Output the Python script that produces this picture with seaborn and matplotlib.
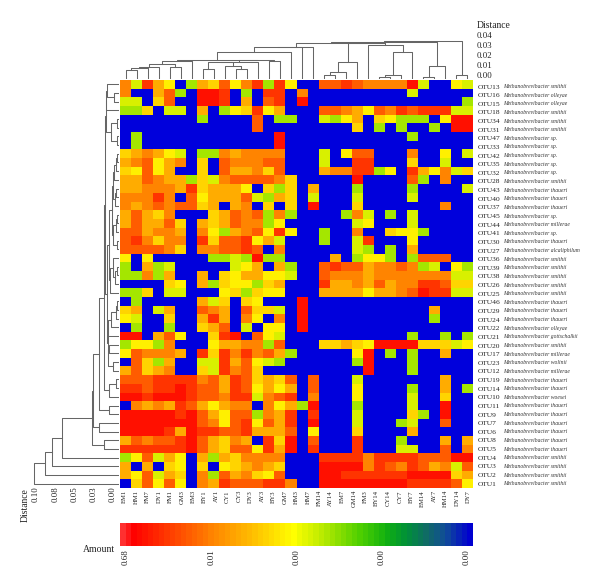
import numpy as np
import pandas as pd
import matplotlib
matplotlib.use("Agg")
import matplotlib.pyplot as plt
from matplotlib.colors import ListedColormap, LinearSegmentedColormap
import seaborn as sns

samples = ["EM1","HM1","FM7","DY1","FM1","GM3","EM3","BY1","AY1","CY1","CY3","DY3","AY3","BY3","GM7","HM3",
           "HM7","FM14","AY14","EM7","GM14","FM3","BY14","CY14","CY7","BY7","EM14","AY7","HM14","DY14","DY7"]
otus = [13,16,15,18,34,31,47,33,42,35,32,28,43,40,37,45,44,41,30,27,36,39,38,26,25,46,29,24,22,21,20,17,23,12,
        19,14,10,11,9,7,6,8,5,4,3,2,1]
species = ["smithii","olleyae","olleyae","smithii","smithii","smithii","sp.","sp.","sp.","sp.","sp.","smithii",
           "thaueri","thaueri","thaueri","sp.","millerae","sp.","thaueri","alcaliphilum","smithii","smithii",
           "smithii","smithii","smithii","thaueri","thaueri","thaueri","olleyae","gottschalkii","smithii",
           "millerae","wolinii","millerae","thaueri","thaueri","woesei","thaueri","thaueri","thaueri","thaueri",
           "thaueri","thaueri","smithii","smithii","smithii","smithii"]

# amount class per OTU (row) and sample cell: 0 = absent ... 9 = most abundant
amount_levels = [
 [6,2,8,5,3,0,1,5,4,7,3,6,8,1,8,3, 0,0,7,7,8,7,6,6,6,6,9,2,0,0,3,2],
 [6,0,0,5,7,1,0,9,9,8,0,1,0,8,8,0, 6,0,0,0,0,0,0,0,0,0,2,0,0,0,0,0],
 [2,2,0,4,7,0,0,9,9,8,0,5,0,7,8,0, 9,0,0,0,0,0,0,0,0,0,0,0,0,0,0,1],
 [1,1,4,0,2,2,0,5,0,1,3,4,8,3,5,0, 0,0,7,7,6,5,3,7,6,8,7,8,8,8,2,2],
 [0,0,0,0,0,0,0,1,0,0,0,0,7,0,1,1, 0,0,2,1,3,5,0,4,3,1,1,1,0,3,9,9],
 [0,0,0,0,0,0,0,0,0,0,0,0,7,0,0,0, 0,0,0,0,0,4,0,1,0,1,0,0,1,0,9,9],
 [0,1,0,0,0,0,0,0,0,0,0,0,0,0,9,0, 0,0,0,0,0,0,0,0,0,0,1,0,0,0,0,0],
 [0,1,0,0,0,0,0,0,0,0,0,0,0,0,9,0, 0,0,0,0,0,0,0,0,0,0,0,0,0,0,0,0],
 [4,5,6,5,3,2,0,1,1,6,5,6,6,6,6,0, 0,0,2,0,3,7,7,0,0,0,6,0,0,3,0,2],
 [5,6,7,3,5,6,0,4,0,7,6,6,6,7,7,0, 0,0,2,0,0,8,8,0,0,0,4,0,0,2,0,0],
 [4,3,7,3,5,0,0,4,0,7,5,5,6,4,7,0, 0,0,5,6,6,8,8,1,3,0,8,5,3,6,2,4],
 [5,5,7,6,5,5,1,4,2,6,7,7,7,7,6,4, 0,0,0,0,0,9,0,0,0,0,7,1,0,6,0,0],
 [5,5,6,6,6,5,8,4,5,5,5,3,0,4,1,4, 0,5,0,0,0,1,0,0,0,0,1,0,0,0,0,2],
 [6,6,6,8,6,0,7,3,5,5,5,7,2,1,5,4, 0,2,0,0,0,2,0,0,0,0,2,0,0,0,0,0],
 [6,5,6,7,6,7,7,4,5,0,5,6,0,4,0,4, 0,9,0,0,0,4,0,0,0,0,0,0,0,6,0,0],
 [5,7,5,4,6,0,0,0,4,5,7,6,7,1,6,1, 0,0,0,0,1,6,2,0,1,0,2,0,0,0,0,0],
 [5,7,5,5,7,4,0,5,4,5,7,6,6,1,3,0, 0,0,0,0,0,2,3,0,0,0,2,0,0,0,0,0],
 [7,7,5,6,6,5,0,6,3,1,5,6,7,3,8,3, 0,0,1,0,0,6,0,0,4,3,3,1,0,0,0,0],
 [7,8,6,4,6,6,0,8,4,7,7,8,3,5,2,0, 0,0,1,0,0,2,8,0,0,0,3,0,0,0,0,0],
 [7,7,7,7,6,4,0,6,6,7,7,8,7,0,6,0, 0,0,0,0,0,2,1,0,1,0,5,0,0,0,0,0],
 [3,0,3,0,0,0,0,0,1,1,2,1,9,1,1,0, 0,0,0,5,0,1,3,3,1,0,1,7,7,7,0,0],
 [1,0,5,1,2,0,0,0,0,0,2,3,5,0,5,1, 0,0,7,8,7,7,5,6,6,7,6,1,2,0,3,1],
 [1,1,6,1,5,0,0,5,0,4,3,5,5,3,3,2, 0,0,7,6,6,6,5,6,6,6,6,6,6,6,2,2],
 [0,0,0,0,4,3,0,5,1,4,3,3,1,4,5,0, 0,0,8,5,5,6,5,7,5,6,6,8,8,7,4,4],
 [1,1,4,0,2,2,0,0,0,3,4,1,4,3,3,0, 0,0,5,5,5,5,3,5,5,6,7,9,8,8,2,2],
 [0,1,0,0,0,0,0,5,2,4,0,4,3,0,0,0, 9,0,0,0,0,0,0,0,0,0,0,0,0,0,0,0],
 [4,5,0,2,5,0,0,7,6,5,0,7,4,4,2,0, 9,0,0,0,0,0,0,0,0,0,0,0,5,0,0,0],
 [3,2,0,0,4,0,0,5,8,5,0,6,3,0,6,0, 9,0,0,0,0,0,0,0,0,0,0,0,1,0,0,0],
 [0,1,0,0,1,0,0,4,5,7,0,2,0,3,3,0, 9,0,0,0,0,0,0,0,0,0,0,0,0,0,0,0],
 [9,9,0,5,7,3,0,0,4,8,9,0,7,3,2,0, 0,0,0,0,0,0,0,0,0,0,1,0,0,1,0,1],
 [1,3,3,1,6,0,0,0,3,5,5,6,6,1,7,0, 0,0,4,4,5,4,3,9,9,9,9,4,4,4,2,3],
 [3,7,6,6,6,5,0,8,4,8,6,8,6,7,5,1, 0,0,0,0,0,3,9,0,1,0,1,0,0,5,0,0],
 [0,7,4,1,5,0,0,2,2,8,5,7,3,2,1,0, 0,0,0,0,0,1,9,0,0,0,1,0,0,0,0,0],
 [5,7,4,5,6,0,0,4,2,8,6,7,4,0,0,0, 0,0,0,0,0,0,9,0,0,0,1,0,0,0,0,0],
 [7,7,7,8,8,8,8,6,7,5,8,7,4,5,4,7, 0,7,0,0,0,2,0,0,0,0,0,0,0,5,0,0],
 [8,8,7,8,8,9,8,7,7,5,8,7,3,5,3,5, 0,7,0,0,0,3,0,0,0,0,1,0,0,5,0,1],
 [9,9,8,9,9,9,8,7,7,6,8,8,2,6,7,8, 0,6,0,0,0,3,0,0,0,0,2,0,0,4,0,0],
 [0,6,5,6,5,8,7,5,3,5,6,6,0,6,3,5, 1,9,0,0,0,1,0,0,0,0,2,0,0,9,0,0],
 [9,9,9,9,9,8,9,7,5,3,7,7,1,6,5,8, 0,8,0,0,0,2,0,0,0,0,4,1,0,9,0,0],
 [9,9,9,9,9,9,9,7,6,3,7,8,3,7,5,8, 0,9,0,0,0,2,0,0,0,1,2,0,0,7,0,0],
 [9,9,9,9,8,5,9,8,8,7,7,8,5,5,5,7, 0,3,0,0,0,4,0,0,0,0,5,0,0,0,0,0],
 [5,7,6,7,7,8,9,7,5,4,6,5,0,8,4,9, 0,7,0,0,0,8,0,0,0,1,0,0,0,5,0,5],
 [8,8,8,8,8,8,9,7,5,4,7,7,3,8,5,9, 0,8,0,0,0,8,0,0,0,2,2,0,0,7,0,6],
 [1,3,7,2,5,3,0,5,1,5,4,6,6,6,6,0, 0,0,8,8,8,8,6,8,8,8,8,7,7,7,9,9],
 [5,0,5,0,4,3,0,4,0,3,4,5,6,5,4,0, 0,0,9,9,9,9,6,8,7,6,8,7,5,6,2,7],
 [5,3,7,2,5,4,0,6,1,7,5,6,4,3,7,0, 0,0,9,9,8,8,8,8,8,8,9,9,9,9,4,5],
 [0,4,7,3,7,3,0,6,5,8,7,7,7,8,8,6, 0,0,9,9,9,9,9,9,9,9,8,8,8,8,7,3],
]
level_colors = ["#0000DC","#A4E600","#D8F000","#FFF000","#FFD400","#FFAC00","#FF8400","#FF5C00","#FF3400","#FF1000"]

# dendrograms: (distance, left, right), leaves are positions
column_tree = (.038,(.0367,(.036,(.032,(.0313,(.027,(.0187,(.018,(.015,(.012,(.0107,(.0087,0,1),2),3),(.012,4,5)),6),
               (.0183,(.017,(.0167,(.0093,7,8),(.0127,9,(.01,10,11))),12),(.018,13,14))),15),16),17),
               (.0353,(.0163,(.007,(.0037,18,19),20),21),(.0337,22,(.0263,(.004,(.002,23,24),25),26)))),
               (.013,(.002,27,28),29)),(.0033,30,31))
top_rows = (.0169,(.0152,0,(.0065,1,2)),3)
rows_4_7 = (.01,(.003,4,5),(.003,6,7))
rows_8_19 = (.0095,(.0082,(.0065,(.0043,(.0022,8,9),10),11),(.0052,(.0039,12,13),14)),
             (.0074,(.0043,(.0022,15,16),17),(.003,18,19)))
rows_20_24 = (.0117,(.0082,20,(.0052,(.003,21,22),23)),24)
rows_25_33 = (.0147,(.0139,(.0109,(.0043,(.003,25,26),27),28),29),(.0139,(.013,30,31),(.0074,32,33)))
row_tree = (.11,(.0961,(.0866,(.0745,(.0346,(.0333,(.0264,(.019,(.0177,(.0165,top_rows,rows_4_7),
            (.0156,(.0126,rows_8_19,rows_20_24),rows_25_33)),(.013,(.0043,34,35),36)),(.013,37,38)),(.026,39,40)),
            (.019,41,42)),43),44),45),46)

distance_ticks_top = ["0.04","0.03","0.02","0.01","0.00"]
distance_ticks_left = ["0.10","0.08","0.05","0.03","0.00"]
amount_ticks = ["0.68","0.01","0.00","0.00","0.00"]
cbar_stops = [(0,"#FF3030"),(.03,"#FF0000"),(.25,"#FF8000"),(.37,"#FFBC00"),(.49,"#FFFF00"),(.56,"#C8EE00"),
              (.68,"#50D000"),(.76,"#10B010"),(.82,"#009038"),(.88,"#106868"),(.93,"#104C98"),(1,"#0000D0")]

plt.rcParams["font.family"] = ["Liberation Serif", "DejaVu Serif"]
W, H = 600, 587
fig = plt.figure(figsize=(W/100, H/100), dpi=100, facecolor="white")
def box(x0, y0, x1, y1):
    return fig.add_axes([x0/W, 1-y1/H, (x1-x0)/W, (y1-y0)/H])
def ftext(x, y, s, **kw):
    fig.text(x/W, 1-y/H, s, **kw)

LINE = dict(color="#666666", lw=0.75, solid_capstyle="projecting")
def draw(node, ax, vertical):
    if not isinstance(node, tuple):
        return node + .5, 0.0
    h, a, b = node
    pa, ha = draw(a, ax, vertical)
    pb, hb = draw(b, ax, vertical)
    p = [pa, pa, pb, pb]; d = [ha, h, h, hb]
    if vertical:
        ax.plot(p, d, **LINE)
    else:
        ax.plot(d, p, **LINE)
    return (pa + pb)/2, h

# heat map
frame = pd.DataFrame(amount_levels, index=[f"OTU{o}" for o in otus])
ax = box(120, 80, 473, 488)
sns.heatmap(frame, ax=ax, cmap=ListedColormap(level_colors), vmin=-.5, vmax=9.5, cbar=False,
            xticklabels=False, yticklabels=False)
ax.set_xlabel(""); ax.set_ylabel("")
ax.set_xticks(np.linspace(.4, 31.6, len(samples)))
ax.set_xticklabels(samples, rotation=90, fontsize=4.8, color="#222222")
ax.tick_params(axis="x", length=0, pad=1.5)
ax.yaxis.tick_right()
label_y = np.linspace(.75, 46.5, len(otus))
ax.set_yticks(label_y)
ax.set_yticklabels(frame.index, fontsize=5.4, color="#222222", rotation=0)
ax.tick_params(axis="y", length=0, pad=3.5)
for y, sp in zip(label_y, species):
    ax.annotate(f"Methanobrevibacter {sp}", xy=(1, y), xycoords=ax.get_yaxis_transform(),
                xytext=(30, 0), textcoords="offset pixels", fontsize=4.1, style="italic",
                va="center", ha="left", color="#333333")

# dendrograms
top = box(120, 30, 473, 78.7)
draw(column_tree, top, True)
top.set_xlim(0, 32); top.set_ylim(0, .0487); top.axis("off")
left = box(20, 80, 119, 488)
draw(row_tree, left, False)
left.set_xlim(99/770, 0); left.set_ylim(47, 0); left.axis("off")

# distance scales
ftext(477, 25.7, "Distance", fontsize=6.9, va="center", color="#222222")
for t, y in zip(distance_ticks_top, np.linspace(36, 76, 5)):
    ftext(477, y, t, fontsize=6.3, va="center", color="#222222")
ftext(25, 505, "Distance", fontsize=6.9, rotation=90, va="center", ha="center", color="#222222")
for t, x in zip(distance_ticks_left, np.linspace(36, 113, 5)):
    ftext(x, 494, t, fontsize=6.3, rotation=90, va="center", ha="center", color="#222222")

# amount bar
cmap_bar = LinearSegmentedColormap.from_list("amount", cbar_stops)
bar = box(120, 522.7, 473, 546)
n_steps = 64
sns.heatmap(np.linspace(0, 1, n_steps).reshape(1, -1), ax=bar, cmap=cmap_bar, vmin=0, vmax=1, cbar=False,
            xticklabels=False, yticklabels=False)
bar.set_xticks(np.linspace(.017, .983, 5) * n_steps)
bar.set_xticklabels(amount_ticks, rotation=90, fontsize=6.5, color="#222222")
bar.tick_params(axis="x", length=0, pad=2.5)
ftext(115, 549, "Amount", fontsize=7, ha="right", va="center", color="#222222")

fig.savefig("out.png", dpi=100, facecolor="white")
